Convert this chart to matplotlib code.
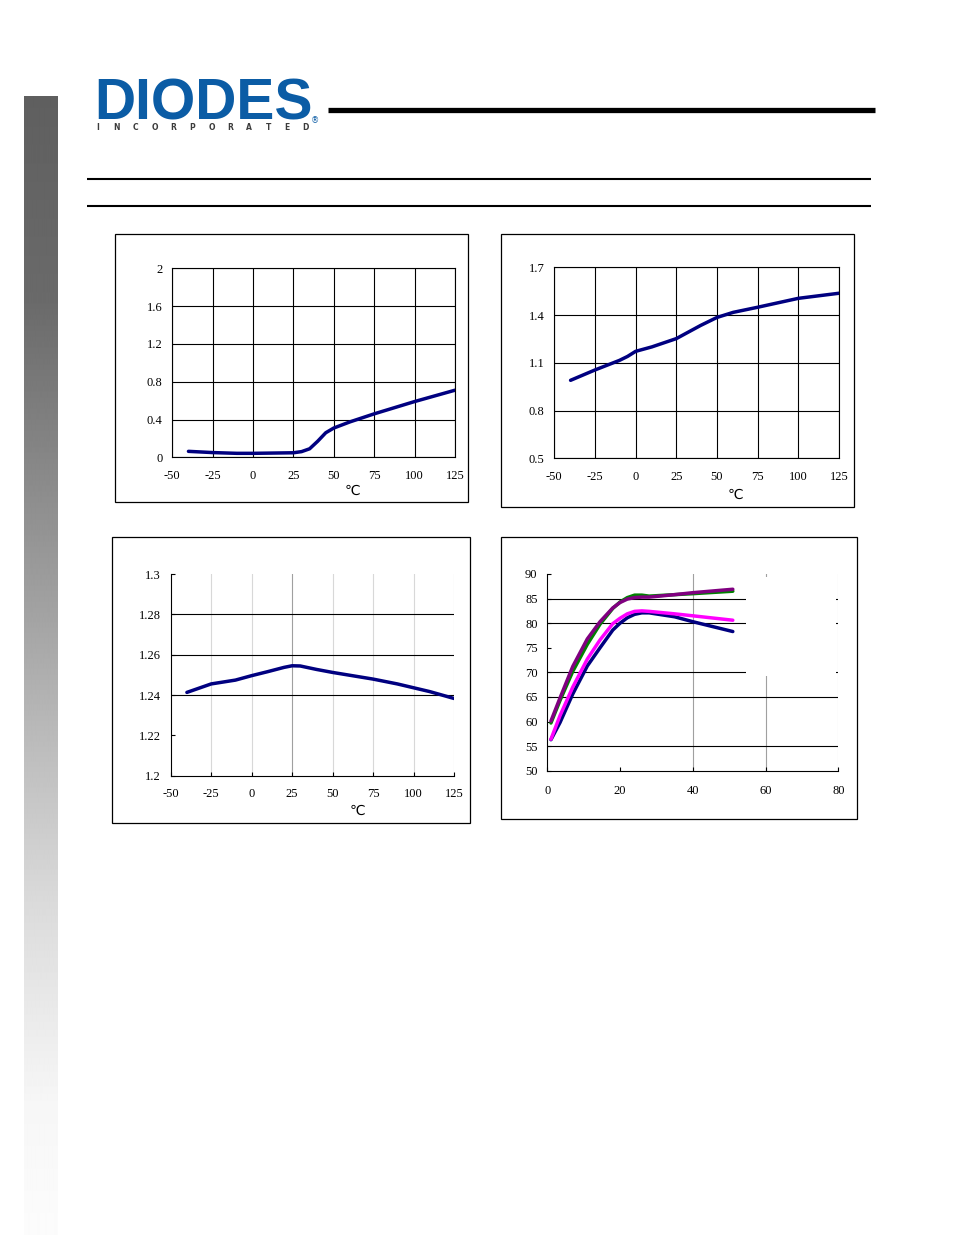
"""
Datasheet page with four characteristic curves (Diodes Inc. style)
"""

import numpy as np
import matplotlib.pyplot as plt
from matplotlib.patches import Rectangle
from matplotlib.lines import Line2D

W, H = 954, 1235

plt.rcParams['axes.unicode_minus'] = False

# ---- data -------------------------------------------------------------
temp_ticks = [-50, -25, 0, 25, 50, 75, 100, 125]

# chart 1 (top left)
temp1 = [-40, -25, -10, 0, 25, 30, 35, 40, 45, 50, 60, 75, 100, 125]
val1 = [0.063, 0.05, 0.042, 0.042, 0.048, 0.06, 0.09, 0.17, 0.26, 0.31,
        0.375, 0.46, 0.59, 0.71]
yticks1 = [0, 0.4, 0.8, 1.2, 1.6, 2]
ylabels1 = ['0', '0.4', '0.8', '1.2', '1.6', '2']

# chart 2 (top right)
temp2 = [-40, -25, -10, -5, 0, 10, 25, 40, 50, 60, 75, 100, 125]
val2 = [0.99, 1.055, 1.115, 1.14, 1.172, 1.20, 1.252, 1.335, 1.385,
        1.417, 1.449, 1.505, 1.537]
yticks2 = [0.5, 0.8, 1.1, 1.4, 1.7]
ylabels2 = ['0.5', '0.8', '1.1', '1.4', '1.7']

# chart 3 (bottom left)
temp3 = [-40, -25, -10, 0, 10, 20, 25, 30, 40, 50, 75, 90, 100, 110, 125]
val3 = [1.2413, 1.2455, 1.2474, 1.2496, 1.2516, 1.2537, 1.2545, 1.2544,
        1.2527, 1.2512, 1.2479, 1.2455, 1.2436, 1.2417, 1.2383]
yticks3 = [1.2, 1.22, 1.24, 1.26, 1.28, 1.3]
ylabels3 = ['1.2', '1.22', '1.24', '1.26', '1.28', '1.3']

# chart 4 (bottom right), four series
x4 = [1, 3.5, 7, 11, 14.5, 18, 20, 22, 24, 26, 28, 35, 40, 51]
navy4 = [56.3, 59.8, 65.6, 71.3, 75.0, 78.6, 80.0, 81.1, 81.8, 82.1, 82.1,
         81.3, 80.3, 78.3]
magenta4 = [56.4, 61.2, 67.0, 72.7, 76.6, 79.9, 81.0, 81.9, 82.4, 82.5, 82.4,
            81.9, 81.5, 80.6]
green4 = [59.7, 64.3, 70.2, 75.7, 79.8, 83.0, 84.3, 85.2, 85.7, 85.7, 85.5,
          85.8, 86.0, 86.5]
purple4 = [60.1, 64.8, 71.2, 76.8, 80.3, 83.1, 84.2, 84.9, 85.2, 85.3, 85.3,
           85.8, 86.2, 86.9]
xticks4 = [0, 20, 40, 60, 80]
yticks4 = [50, 55, 60, 65, 70, 75, 80, 85, 90]

# ---- helpers ----------------------------------------------------------
fig = plt.figure(figsize=(W / 100, H / 100), dpi=100)
fig.patch.set_facecolor('white')

TICK_FONT = dict(family='Liberation Serif', size=9)
DEG_FONT = ['DejaVu Sans', 'Noto Sans CJK SC']


def fx(x):
    return x / W


def fy(y):
    return 1 - y / H


def page_axes(x0, y0, x1, y1):
    return fig.add_axes([fx(x0), fy(y1), (x1 - x0) / W, (y1 - y0) / H])


def frame(x0, y0, x1, y1):
    fig.add_artist(Rectangle((fx(x0), fy(y1)), (x1 - x0) / W, (y1 - y0) / H,
                             transform=fig.transFigure, fill=False,
                             ec='black', lw=0.9))


def hline(x0, x1, y, lw, color='black'):
    fig.add_artist(Line2D([fx(x0), fx(x1)], [fy(y), fy(y)], lw=lw,
                          color=color, transform=fig.transFigure,
                          solid_capstyle='butt'))


def style_ticks(ax, length=0):
    ax.tick_params(axis='both', direction='in', length=length, width=0.8,
                   colors='black')
    ax.tick_params(axis='y', pad=7)
    ax.tick_params(axis='x', pad=9)
    for lab in ax.get_xticklabels() + ax.get_yticklabels():
        lab.set_fontfamily(TICK_FONT['family'])
        lab.set_fontsize(TICK_FONT['size'])


def boxed_grid(ax):
    ax.grid(True, color='black', lw=0.8)
    ax.set_axisbelow(True)
    for s in ax.spines.values():
        s.set_linewidth(0.8)


# ---- side bar gradient ------------------------------------------------
bar = fig.add_axes([fx(24), fy(1235), 34 / W, (1235 - 96) / H])
rows = np.arange(96, 1235)
shade = np.interp(rows, [96, 300, 600, 900, 1100, 1235],
                  [95, 106, 160, 218, 246, 252]) / 255
bar.imshow(np.repeat(shade[:, None], 2, axis=1), cmap='gray', vmin=0, vmax=1,
           aspect='auto', interpolation='bilinear')
bar.axis('off')

# ---- logo and header rules --------------------------------------------
fig.text(fx(94), fy(120), 'DIODES', family='Liberation Sans',
         fontweight='bold', fontsize=41, color='#0b5ca5', va='baseline')
hline(107, 207, 98.8, 1.3, 'white')
for i, ch in enumerate('INCORPORATED'):
    fig.text(fx(98 + i * 18.9), fy(130), ch, family='DejaVu Sans',
             fontweight='bold', fontsize=5.5, color='#3c3c3c',
             ha='center', va='baseline')
fig.text(fx(315), fy(121), '®', fontsize=6, color='#0b5ca5',
         ha='center', va='center')
hline(328, 875, 110, 3.8)
hline(87, 871, 179, 1.5)
hline(87, 871, 206, 1.5)

# ---- chart 1 ----------------------------------------------------------
frame(115, 234, 468, 502)
ax1 = page_axes(172.3, 268.3, 455, 457.3)
ax1.plot(temp1, val1, color='#000080', lw=2.5, solid_capstyle='round')
ax1.set_xlim(-50, 125)
ax1.set_ylim(0, 2)
ax1.set_xticks(temp_ticks)
ax1.set_yticks(yticks1, ylabels1)
boxed_grid(ax1)
style_ticks(ax1)
fig.text(fx(352), fy(491), '℃', family=DEG_FONT, fontsize=10,
         ha='center', va='center')

# ---- chart 2 ----------------------------------------------------------
frame(501, 234, 854, 507)
ax2 = page_axes(554.3, 267.3, 839, 458.3)
ax2.plot(temp2, val2, color='#000080', lw=2.5, solid_capstyle='round')
ax2.set_xlim(-50, 125)
ax2.set_ylim(0.5, 1.7)
ax2.set_xticks(temp_ticks)
ax2.set_yticks(yticks2, ylabels2)
boxed_grid(ax2)
style_ticks(ax2)
fig.text(fx(735), fy(495), '℃', family=DEG_FONT, fontsize=10,
         ha='center', va='center')

# ---- chart 3 ----------------------------------------------------------
frame(112, 537, 470, 823)
ax3 = page_axes(170.7, 574, 454, 775.7)
for t in temp_ticks[1:]:
    ax3.axvline(t, color='#a0a0a0' if t == 25 else '#d8d8d8', lw=0.8,
                zorder=0)
for v in yticks3[2:5]:
    ax3.axhline(v, color='black', lw=0.8, zorder=0)
ax3.plot(temp3, val3, color='#000080', lw=2.5, solid_capstyle='round')
ax3.set_xlim(-50, 125)
ax3.set_ylim(1.2, 1.3)
ax3.set_xticks(temp_ticks)
ax3.set_yticks(yticks3, ylabels3)
ax3.spines[['top', 'right']].set_visible(False)
for s in ('left', 'bottom'):
    ax3.spines[s].set_linewidth(0.8)
style_ticks(ax3, length=3)
fig.text(fx(357), fy(811), '℃', family=DEG_FONT, fontsize=10,
         ha='center', va='center')

# ---- chart 4 ----------------------------------------------------------
frame(501, 537, 857, 819)
ax4 = page_axes(547.3, 574, 838.3, 770.7)
for t in xticks4[2:]:
    ax4.axvline(t, color='#d0d0d0' if t == 80 else '#a0a0a0', lw=0.8,
                zorder=0)
for v in [55, 65, 70, 80, 85]:
    ax4.axhline(v, color='black', lw=0.8, zorder=0)
ax4.plot(x4, navy4, color='#000080', lw=2.5, solid_capstyle='round')
ax4.plot(x4, magenta4, color='#ff00ff', lw=2.5, solid_capstyle='round')
ax4.plot(x4, green4, color='#008000', lw=2.5, solid_capstyle='round')
ax4.plot(x4, purple4, color='#800080', lw=2.5, solid_capstyle='round')
ax4.set_xlim(0, 80)
ax4.set_ylim(50, 90)
ax4.set_xticks(xticks4)
ax4.set_yticks(yticks4)
ax4.spines[['top', 'right']].set_visible(False)
for s in ('left', 'bottom'):
    ax4.spines[s].set_linewidth(0.8)
style_ticks(ax4, length=3)
ax4.tick_params(axis='x', pad=10)

# blank area where the legend was removed
fig.add_artist(Rectangle((fx(746), fy(676)), 90 / W, 99 / H,
                         transform=fig.transFigure, fc='white', ec='none',
                         zorder=5))

fig.savefig('out.png', dpi=100)
